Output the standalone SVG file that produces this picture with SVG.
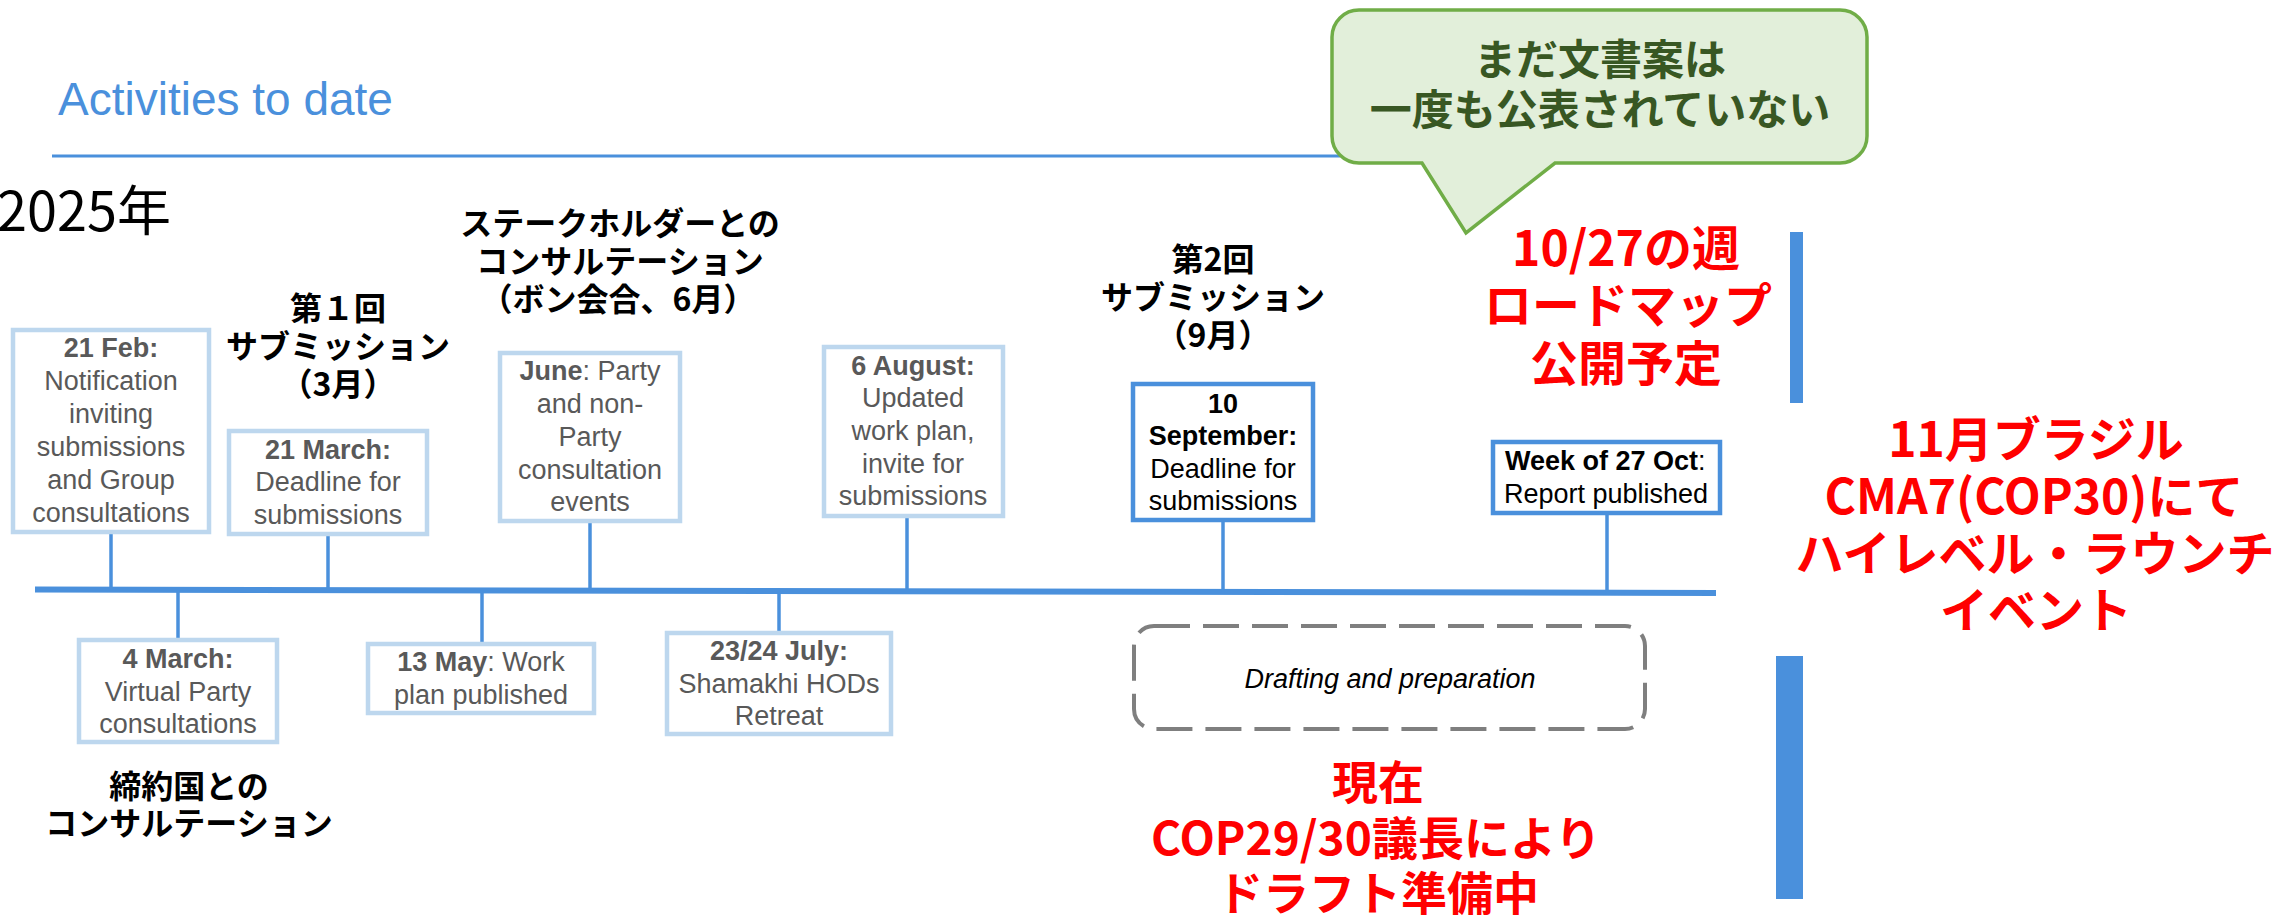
<svg xmlns="http://www.w3.org/2000/svg" width="2274" height="916" viewBox="0 0 2274 916">
<style>
.bg{fill:#ffffff}
.lbox{fill:#ffffff;stroke:#BDD7EE;stroke-width:4.5}
.dbox{fill:#ffffff;stroke:#4A90DC;stroke-width:4.5}
.conn{stroke:#4A90DC;stroke-width:3.5;fill:none}
.en{font-family:"Liberation Sans",Arial,sans-serif;font-size:27px;text-anchor:middle}
.g{fill:#595959}
.k{fill:#000000}
.b{font-weight:bold}
.jp{font-family:"Noto Sans CJK JP","Noto Sans CJK SC",sans-serif;font-weight:bold;text-anchor:middle;fill:#000000;font-size:32px}
.red{font-family:"Noto Sans CJK JP","Noto Sans CJK SC",sans-serif;font-weight:bold;text-anchor:middle;fill:#FF0000}
.bar{fill:#4A90DC}
</style>
<rect class="bg" x="0" y="0" width="2274" height="916"/>

<g id="title">
<text x="58" y="115" font-family="Liberation Sans, Arial, sans-serif" font-size="46" fill="#4A90DC">Activities to date</text>
<line x1="52" y1="156" x2="1340" y2="156" stroke="#4A90DC" stroke-width="3"/>
</g>

<g id="year">
<text x="-3" y="231" font-family="Noto Sans CJK JP, sans-serif" font-size="54" fill="#000000">2025年</text>
</g>

<g id="connectors">
<line x1="35" y1="589.5" x2="1716" y2="593" stroke="#4A90DC" stroke-width="6"/>
<line class="conn" x1="111" y1="532" x2="111" y2="590"/>
<line class="conn" x1="328" y1="534" x2="328" y2="590"/>
<line class="conn" x1="590" y1="521" x2="590" y2="590"/>
<line class="conn" x1="907" y1="516" x2="907" y2="591"/>
<line class="conn" x1="1223" y1="520" x2="1223" y2="592"/>
<line class="conn" x1="1607" y1="513" x2="1607" y2="592"/>
<line class="conn" x1="178" y1="590" x2="178" y2="640"/>
<line class="conn" x1="482" y1="590" x2="482" y2="644"/>
<line class="conn" x1="779" y1="591" x2="779" y2="633"/>
</g>

<g id="feb21">
<rect class="lbox" x="13" y="330" width="196" height="202"/>
<text class="en g b" x="111" y="357">21 Feb:</text>
<text class="en g" x="111" y="390">Notification</text>
<text class="en g" x="111" y="423">inviting</text>
<text class="en g" x="111" y="456">submissions</text>
<text class="en g" x="111" y="489">and Group</text>
<text class="en g" x="111" y="522">consultations</text>
</g>

<g id="mar21">
<rect class="lbox" x="229" y="431" width="198" height="103"/>
<text class="en g b" x="328" y="459">21 March:</text>
<text class="en g" x="328" y="491">Deadline for</text>
<text class="en g" x="328" y="524">submissions</text>
</g>

<g id="june">
<rect class="lbox" x="500" y="353" width="180" height="168"/>
<text class="en g" x="590" y="380"><tspan font-weight="bold">June</tspan>: Party</text>
<text class="en g" x="590" y="413">and non-</text>
<text class="en g" x="590" y="446">Party</text>
<text class="en g" x="590" y="479">consultation</text>
<text class="en g" x="590" y="511">events</text>
</g>

<g id="aug6">
<rect class="lbox" x="824" y="347" width="179" height="169"/>
<text class="en g b" x="913" y="375">6 August:</text>
<text class="en g" x="913" y="407">Updated</text>
<text class="en g" x="913" y="440">work plan,</text>
<text class="en g" x="913" y="473">invite for</text>
<text class="en g" x="913" y="505">submissions</text>
</g>

<g id="sep10">
<rect class="dbox" x="1133" y="384" width="180" height="136"/>
<text class="en k b" x="1223" y="413">10</text>
<text class="en k b" x="1223" y="445">September:</text>
<text class="en k" x="1223" y="478">Deadline for</text>
<text class="en k" x="1223" y="510">submissions</text>
</g>

<g id="oct27">
<rect class="dbox" x="1493" y="442" width="227" height="71"/>
<text x="1505" y="470" font-family="Liberation Sans, Arial, sans-serif" font-size="27" fill="#000"><tspan font-weight="bold">Week of 27 Oct</tspan>:</text>
<text x="1504" y="503" font-family="Liberation Sans, Arial, sans-serif" font-size="27" fill="#000">Report published</text>
</g>

<g id="mar4">
<rect class="lbox" x="79" y="640" width="198" height="102"/>
<text class="en g b" x="178" y="668">4 March:</text>
<text class="en g" x="178" y="701">Virtual Party</text>
<text class="en g" x="178" y="733">consultations</text>
</g>

<g id="may13">
<rect class="lbox" x="368" y="644" width="226" height="69"/>
<text class="en g" x="481" y="671"><tspan font-weight="bold">13 May</tspan>: Work</text>
<text class="en g" x="481" y="704">plan published</text>
</g>

<g id="july">
<rect class="lbox" x="667" y="633" width="224" height="101"/>
<text class="en g b" x="779" y="660">23/24 July:</text>
<text class="en g" x="779" y="693">Shamakhi HODs</text>
<text class="en g" x="779" y="725">Retreat</text>
</g>

<g id="drafting">
<rect x="1134" y="626" width="511" height="103" rx="20" ry="20" fill="none" stroke="#7F7F7F" stroke-width="4" stroke-dasharray="36 13"/>
<text x="1390" y="688" font-family="Liberation Sans, Arial, sans-serif" font-size="27" font-style="italic" text-anchor="middle" fill="#000">Drafting and preparation</text>
</g>

<g id="label-submission1">
<text class="jp" x="338" y="320">第１回</text>
<text class="jp" x="338" y="358">サブミッション</text>
<text class="jp" x="338" y="396">（3月）</text>
</g>

<g id="label-stakeholder">
<text class="jp" x="620" y="235">ステークホルダーとの</text>
<text class="jp" x="620" y="273">コンサルテーション</text>
<text class="jp" x="618" y="311">（ボン会合、6月）</text>
</g>

<g id="label-submission2">
<text class="jp" x="1213" y="271">第2回</text>
<text class="jp" x="1213" y="309">サブミッション</text>
<text class="jp" x="1213" y="347">（9月）</text>
</g>

<g id="label-parties">
<text class="jp" x="189" y="798">締約国との</text>
<text class="jp" x="189" y="835">コンサルテーション</text>
</g>

<g id="callout">
<path d="M1359,10 H1840 A27,27 0 0 1 1867,37 V136 A27,27 0 0 1 1840,163 H1555 L1466,233 L1422,163 H1359 A27,27 0 0 1 1332,136 V37 A27,27 0 0 1 1359,10 Z" fill="#E2EFDA" stroke="#70AD47" stroke-width="3.5"/>
<text x="1600" y="75" font-family="Noto Sans CJK JP, sans-serif" font-weight="bold" font-size="42" text-anchor="middle" fill="#385723">まだ文書案は</text>
<text x="1600" y="125" font-family="Noto Sans CJK JP, sans-serif" font-weight="bold" font-size="42" text-anchor="middle" fill="#385723">一度も公表されていない</text>
</g>

<g id="roadmap">
<text class="red" x="1626" y="266" font-size="48">10/27の週</text>
<text class="red" x="1628" y="323" font-size="48">ロードマップ</text>
<text class="red" x="1626" y="381" font-size="48">公開予定</text>
</g>

<g id="brazil">
<text class="red" x="2036" y="457" font-size="48">11月ブラジル</text>
<text class="red" x="2034" y="514" font-size="48">CMA7(COP30)にて</text>
<text class="red" x="2035" y="571" font-size="48">ハイレベル・ラウンチ</text>
<text class="red" x="2036" y="628" font-size="48">イベント</text>
</g>

<g id="current">
<text class="red" x="1378" y="799" font-size="46">現在</text>
<text class="red" x="1376" y="855" font-size="46">COP29/30議長により</text>
<text class="red" x="1378" y="910" font-size="46">ドラフト準備中</text>
</g>

<g id="bars">
<rect class="bar" x="1790" y="232" width="13" height="171"/>
<rect class="bar" x="1776" y="656" width="27" height="243"/>
</g>
</svg>
